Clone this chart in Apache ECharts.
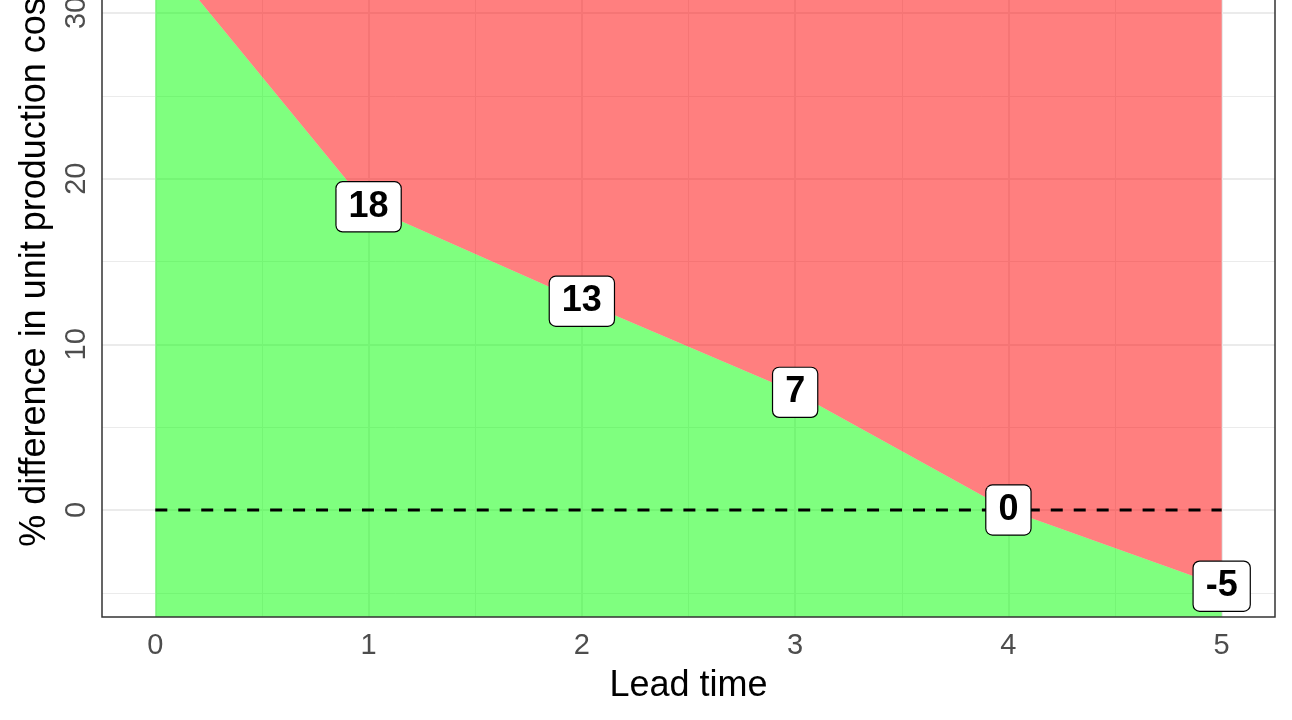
<!DOCTYPE html>
<html>
<head>
<meta charset="utf-8">
<script src="https://cdn.jsdelivr.net/npm/echarts@6/dist/echarts.min.js"></script>
<style>
html,body{margin:0;padding:0;background:#fff;}
#chart{width:1292px;height:720px;}
</style>
</head>
<body>
<div id="chart"></div>
<script>
// ---- data ----
const leadTime = [0, 1, 2, 3, 4, 5];
const costDiff = [34.0, 18.3, 12.6, 7.1, 0.0, -4.6];
const refLineX = [0, 5];
const refLineY = [0, 0];
const xTicks = [0, 1, 2, 3, 4, 5];
const xMinor = [0.5, 1.5, 2.5, 3.5, 4.5];
const yTicks = [0, 10, 20, 30];
const yMinor = [-5, 5, 15, 25, 35];
const xTitle = 'Lead time';
const yTitle = '% difference in unit production costs';

const FONT = '"Liberation Sans", Arial, Helvetica, sans-serif';
const pts = leadTime.map((x, i) => [x, costDiff[i]]);
const ref = refLineX.map((x, i) => [x, refLineY[i]]);

const gridLines = [];
xMinor.forEach(v => gridLines.push({xAxis: v, lineStyle: {width: 1, color: '#EBEBEB', type: 'solid'}}));
yMinor.forEach(v => gridLines.push({yAxis: v, lineStyle: {width: 1, color: '#EBEBEB', type: 'solid'}}));
xTicks.forEach(v => gridLines.push({xAxis: v, lineStyle: {width: 2, color: '#EBEBEB', type: 'solid'}}));
yTicks.forEach(v => gridLines.push({yAxis: v, lineStyle: {width: 2, color: '#EBEBEB', type: 'solid'}}));

const chart = echarts.init(document.getElementById('chart'), null, {renderer: 'canvas'});
chart.setOption({
  animation: false,
  backgroundColor: '#ffffff',
  grid: {
    left: 102, right: 17, top: -101, bottom: 103,
    containLabel: false, outerBoundsMode: 'none',
    show: true, z: 10, backgroundColor: 'transparent',
    borderColor: '#333333', borderWidth: 1.5
  },
  xAxis: {
    type: 'value', min: -0.25, max: 5.25,
    name: xTitle, nameLocation: 'middle', nameGap: 51,
    nameTextStyle: {fontFamily: FONT, fontSize: 36, color: '#000'},
    axisLine: {show: false},
    axisTick: {show: true, customValues: xTicks, length: 6, lineStyle: {color: '#333333', width: 1.5}},
    axisLabel: {show: true, customValues: xTicks, fontFamily: FONT, fontSize: 29, color: '#4D4D4D', margin: 14},
    splitLine: {show: false}
  },
  yAxis: {
    type: 'value', min: -6.46, max: 36.88,
    name: yTitle, nameLocation: 'middle', nameGap: 49, nameRotate: 90,
    nameTextStyle: {fontFamily: FONT, fontSize: 36, color: '#000'},
    axisLine: {show: false},
    axisTick: {show: true, customValues: yTicks, length: 6, lineStyle: {color: '#333333', width: 1.5}},
    axisLabel: {show: true, customValues: yTicks, rotate: 90, fontFamily: FONT, fontSize: 29, color: '#4D4D4D', margin: 11},
    splitLine: {show: false}
  },
  series: [
    {
      type: 'line', data: [], z: 1, silent: true,
      markLine: {z: 1, silent: true, symbol: ['none', 'none'], label: {show: false}, data: gridLines, animation: false}
    },
    {
      type: 'line', data: pts, z: 2, symbol: 'none', silent: true,
      lineStyle: {width: 0, opacity: 0},
      areaStyle: {color: 'rgba(0,255,0,0.5)', origin: 'start', opacity: 1}
    },
    {
      type: 'line', data: pts, z: 2, symbol: 'none', silent: true,
      lineStyle: {width: 0, opacity: 0},
      areaStyle: {color: 'rgba(255,0,0,0.5)', origin: 'end', opacity: 1}
    },
    {
      type: 'line', data: ref, z: 3, symbol: 'none', silent: true,
      lineStyle: {color: '#000', width: 2.8, type: [12, 10.96], opacity: 1}
    },
    {
      type: 'scatter', data: pts, z: 5, symbolSize: 1, silent: true,
      itemStyle: {color: 'rgba(0,0,0,0)', opacity: 1},
      label: {
        show: true, position: 'inside',
        formatter: p => String(Math.round(p.value[1])),
        fontFamily: FONT, fontSize: 36, fontWeight: 'bold', color: '#000', opacity: 1,
        backgroundColor: '#fff', borderColor: '#000', borderWidth: 1.2, borderRadius: 6,
        padding: [7, 12, 6, 12], lineHeight: 36
      }
    }
  ]
});
</script>
</body>
</html>
